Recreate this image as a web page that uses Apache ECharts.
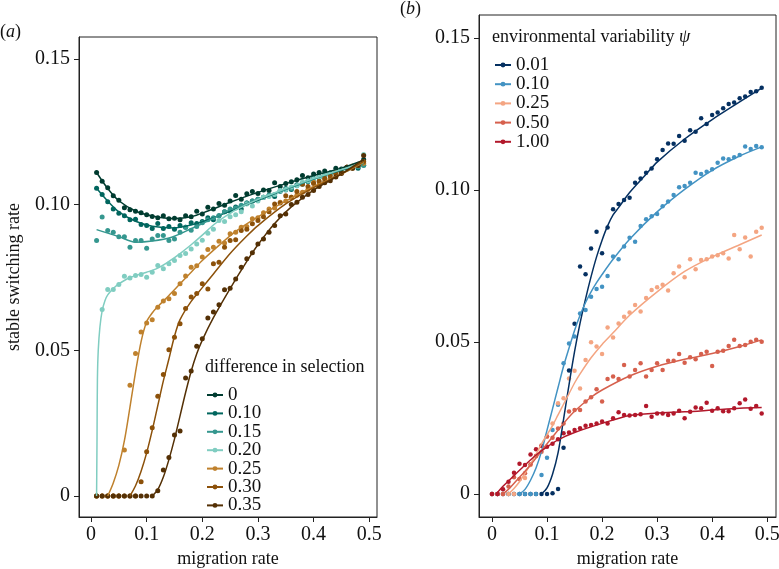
<!DOCTYPE html>
<html>
<head>
<meta charset="utf-8">
<script src="https://cdn.jsdelivr.net/npm/echarts@6/dist/echarts.min.js"></script>
<style>html,body{margin:0;padding:0;background:#fff}#c{width:779px;height:569px}</style>
</head>
<body>
<div id="c"></div>
<script>
// ---------- axis ticks ----------
const xTicks = [0, 0.1, 0.2, 0.3, 0.4, 0.5];
const xTickLabels = ['0', '0.1', '0.2', '0.3', '0.4', '0.5'];
const yTicks = [0, 0.05, 0.10, 0.15];
const yTickLabels = ['0', '0.05', '0.10', '0.15'];

// ---------- panel (a): difference in selection ----------
const namesA = ['0', '0.10', '0.15', '0.20', '0.25', '0.30', '0.35'];
const migrationA = [0.01,0.02,0.03,0.04,0.05,0.06,0.07,0.08,0.09,0.10,0.11,0.12,0.13,0.14,0.15,0.16,0.17,0.18,0.19,0.20,0.21,0.22,0.23,0.24,0.25,0.26,0.27,0.28,0.29,0.30,0.31,0.32,0.33,0.34,0.35,0.36,0.37,0.38,0.39,0.40,0.41,0.42,0.43,0.44,0.45,0.46,0.47,0.48,0.49];

const dotsA0  = [0.111,0.108,0.1058,0.103,0.1015,0.0989,0.0982,0.0977,0.0972,0.0965,0.0959,0.0955,0.0962,0.0951,0.0953,0.0948,0.0962,0.0958,0.0977,0.0968,0.0991,0.0985,0.1004,0.0998,0.1012,0.1031,0.1018,0.1037,0.1045,0.1038,0.105,0.1048,0.1075,0.1062,0.1072,0.1078,0.1085,0.110,0.1092,0.1105,0.111,0.1115,0.1108,0.1125,0.1122,0.1128,0.113,0.1135,0.1155];
const dotsA10 = [0.1056,0.1035,0.101,0.0985,0.097,0.0962,0.0948,0.095,0.0932,0.0928,0.0918,0.0935,0.0918,0.0925,0.0915,0.0928,0.0922,0.0938,0.0935,0.0942,0.0955,0.0948,0.0962,0.0975,0.0978,0.0992,0.0985,0.1005,0.1012,0.1018,0.1025,0.1032,0.1028,0.1048,0.1055,0.1052,0.1068,0.1075,0.108,0.109,0.1095,0.110,0.1108,0.1112,0.1118,0.1122,0.1128,0.1125,0.1135];
const dotsA15 = [0.0877,0.0957,0.0911,0.0905,0.089,0.089,0.0854,0.0877,0.0877,0.085,0.0882,0.0894,0.0894,0.0877,0.0882,0.0905,0.0922,0.0912,0.0925,0.0938,0.0948,0.0955,0.0962,0.0975,0.0985,0.0988,0.0998,0.1005,0.1012,0.1018,0.1025,0.1032,0.1035,0.1045,0.105,0.1055,0.1065,0.107,0.1078,0.1088,0.1092,0.1098,0.1105,0.111,0.1118,0.1122,0.1128,0.113,0.1135];
const dotsA20 = [0,0.064,0.0709,0.0709,0.0726,0.0754,0.0748,0.0757,0.076,0.0751,0.0768,0.0791,0.078,0.0797,0.0808,0.0825,0.0832,0.0848,0.0865,0.0878,0.0902,0.0915,0.0945,0.0942,0.0958,0.0965,0.0975,0.1002,0.0995,0.1012,0.1025,0.1028,0.1035,0.1048,0.1052,0.106,0.1065,0.1078,0.1082,0.1088,0.1095,0.1102,0.1105,0.1112,0.1118,0.1122,0.1128,0.1135,0.1172];
const dotsA25 = [0,0,0,0,0,0.0158,0.038,0.0489,0.0563,0.0594,0.0605,0.0648,0.0669,0.0677,0.0695,0.0728,0.0755,0.0785,0.079,0.082,0.0846,0.0854,0.0874,0.0868,0.09,0.0905,0.0922,0.0925,0.0951,0.0955,0.0972,0.0985,0.0988,0.1008,0.1012,0.1025,0.1032,0.1042,0.1052,0.1077,0.1068,0.1085,0.109,0.111,0.1108,0.1128,0.1132,0.1138,0.1142];
const dotsA30 = [0,0,0,0,0,0,0,0,0.0049,0.0152,0.0234,0.0342,0.0417,0.0502,0.0545,0.0591,0.0643,0.0683,0.0695,0.0728,0.071,0.0797,0.0802,0.0854,0.0877,0.0879,0.0911,0.0915,0.0934,0.0945,0.0958,0.0975,0.1002,0.1005,0.103,0.1025,0.1045,0.107,0.1062,0.1072,0.108,0.109,0.1098,0.1105,0.1112,0.1128,0.1125,0.1135,0.1148];
const dotsA35 = [0,0,0,0,0,0,0,0,0,0,0,0.0018,0.0089,0.0132,0.0209,0.0223,0.0405,0.0429,0.0514,0.054,0.0611,0.0631,0.0656,0.0708,0.0713,0.0745,0.0785,0.0814,0.0835,0.0865,0.0882,0.0905,0.0928,0.0962,0.0968,0.1,0.1008,0.1025,0.1035,0.1048,0.1062,0.1075,0.1082,0.1095,0.1107,0.1128,0.1125,0.1134,0.1168];

const fitA0  = [[0.01,0.111],[0.03,0.1055],[0.05,0.1013],[0.08,0.0978],[0.11,0.0961],[0.15,0.0952],[0.18,0.0958],[0.21,0.0978],[0.25,0.1008],[0.3,0.1042],[0.35,0.1072],[0.4,0.110],[0.45,0.1125],[0.49,0.1152]];
const fitA10 = [[0.01,0.1056],[0.03,0.1012],[0.05,0.0975],[0.08,0.0943],[0.11,0.0926],[0.15,0.092],[0.19,0.0935],[0.23,0.0962],[0.27,0.0992],[0.3,0.1015],[0.35,0.1052],[0.4,0.1088],[0.45,0.1118],[0.49,0.1142]];
const fitA15 = [[0.01,0.0914],[0.03,0.0902],[0.05,0.089],[0.08,0.0871],[0.11,0.0875],[0.145,0.0888],[0.18,0.0917],[0.22,0.0953],[0.25,0.0982],[0.3,0.1018],[0.35,0.1052],[0.4,0.1088],[0.45,0.112],[0.49,0.1142]];
const fitA20 = [[0.01,0],[0.0108,0.02],[0.0115,0.04],[0.013,0.05],[0.016,0.058],[0.02,0.0635],[0.025,0.067],[0.03,0.069],[0.04,0.0712],[0.05,0.0728],[0.07,0.075],[0.1,0.0768],[0.12,0.0782],[0.14,0.0805],[0.16,0.0832],[0.18,0.0862],[0.2,0.0895],[0.22,0.093],[0.24,0.0958],[0.26,0.0982],[0.3,0.1018],[0.35,0.1055],[0.4,0.109],[0.45,0.112],[0.49,0.1145]];
const fitA25 = [[0.03,0],[0.04,0.0045],[0.05,0.0105],[0.06,0.019],[0.07,0.0305],[0.08,0.0425],[0.09,0.053],[0.1,0.0598],[0.11,0.0628],[0.12,0.065],[0.14,0.0688],[0.16,0.0728],[0.18,0.0768],[0.2,0.0808],[0.23,0.086],[0.26,0.0908],[0.3,0.0958],[0.35,0.1012],[0.4,0.1062],[0.45,0.1105],[0.49,0.1145]];
const fitA30 = [[0.07,0],[0.08,0.0035],[0.09,0.0085],[0.1,0.0148],[0.11,0.0225],[0.12,0.031],[0.13,0.0395],[0.14,0.047],[0.15,0.0548],[0.16,0.0605],[0.18,0.0668],[0.2,0.0715],[0.22,0.0762],[0.25,0.0832],[0.28,0.0892],[0.3,0.0928],[0.35,0.1002],[0.4,0.1058],[0.45,0.1105],[0.49,0.1148]];
const fitA35 = [[0.11,0],[0.12,0.0022],[0.13,0.0065],[0.14,0.0125],[0.15,0.0195],[0.16,0.0275],[0.17,0.0355],[0.18,0.0428],[0.19,0.0488],[0.2,0.0535],[0.22,0.0612],[0.25,0.0712],[0.28,0.0805],[0.3,0.0862],[0.33,0.0935],[0.36,0.0992],[0.4,0.105],[0.45,0.1105],[0.49,0.1155]];

const colorsA = ['#003c30', '#01665e', '#35978f', '#80cdc1', '#bf812d', '#8c510a', '#543005'];
const dotsA = [dotsA0, dotsA10, dotsA15, dotsA20, dotsA25, dotsA30, dotsA35];
const fitsA = [fitA0, fitA10, fitA15, fitA20, fitA25, fitA30, fitA35];

// ---------- panel (b): environmental variability ----------
const namesB = ['0.01', '0.10', '0.25', '0.50', '1.00'];
const migrationB = [0,0.01,0.02,0.03,0.04,0.05,0.06,0.07,0.08,0.09,0.10,0.11,0.12,0.13,0.14,0.15,0.16,0.17,0.18,0.19,0.20,0.21,0.22,0.23,0.24,0.25,0.26,0.27,0.28,0.29,0.30,0.31,0.32,0.33,0.34,0.35,0.36,0.37,0.38,0.39,0.40,0.41,0.42,0.43,0.44,0.45,0.46,0.47,0.48,0.49];

const dotsB01  = [0,0,0,0,0,0,0,0,0,0,0,0.0002,0.0016,0.0152,0.0406,0.056,0.0748,0.0723,0.0808,0.0863,0.0792,0.0877,0.0937,0.0954,0.0967,0.0975,0.1024,0.1038,0.1057,0.1071,0.1101,0.1132,0.1153,0.1152,0.1178,0.1162,0.1197,0.1192,0.1236,0.1217,0.1247,0.1255,0.1269,0.1283,0.1288,0.1302,0.1308,0.1323,0.1325,0.1337];
const dotsB10  = [0,0,0,0,0,0,0,0,0,0.0062,0.0119,0.021,0.0293,0.043,0.0495,0.0518,0.0594,0.0605,0.0649,0.0674,0.0682,0.0717,0.0781,0.0772,0.0814,0.0843,0.083,0.0882,0.0904,0.0914,0.0921,0.0947,0.0962,0.0984,0.1009,0.1013,0.1024,0.1057,0.1053,0.106,0.1068,0.109,0.1104,0.1101,0.1108,0.1115,0.1143,0.1135,0.1145,0.1141];
const dotsB25  = [0,0,0,0,0,0.0048,0.0052,0.0095,0.0125,0.016,0.0189,0.0232,0.0298,0.0315,0.038,0.0405,0.0347,0.0441,0.0499,0.0485,0.046,0.0548,0.0515,0.0561,0.0583,0.0597,0.0622,0.060,0.0645,0.0671,0.068,0.0688,0.0669,0.0726,0.0748,0.0713,0.0772,0.0739,0.077,0.0772,0.0781,0.0785,0.0792,0.0775,0.0852,0.0805,0.0844,0.0781,0.0863,0.0876];
const dotsB50  = [0,0,0,0.0024,0.0055,0.0049,0.0068,0.0098,0.0125,0.0139,0.0189,0.0185,0.0215,0.0232,0.0271,0.0276,0.0276,0.0304,0.0318,0.0344,0.0304,0.0378,0.0386,0.0378,0.0424,0.0386,0.0408,0.043,0.0386,0.0408,0.043,0.0408,0.0438,0.0438,0.046,0.0432,0.045,0.0443,0.046,0.0468,0.0421,0.0468,0.0471,0.0487,0.0507,0.0487,0.049,0.0501,0.0507,0.0501];
const dotsB100 = [0,0,0.0015,0.004,0.007,0.0099,0.0095,0.013,0.0147,0.0158,0.0155,0.0165,0.018,0.02,0.0202,0.021,0.0216,0.0224,0.0227,0.0232,0.0238,0.0232,0.0249,0.0269,0.026,0.0258,0.026,0.0262,0.0289,0.0254,0.0265,0.0265,0.026,0.0265,0.0274,0.0249,0.027,0.0284,0.0282,0.030,0.0274,0.0282,0.0272,0.0272,0.0282,0.0298,0.0311,0.028,0.0289,0.0265];

const fitB01  = [[0.09,0],[0.10,0.002],[0.11,0.0065],[0.12,0.0135],[0.13,0.0245],[0.14,0.036],[0.15,0.0468],[0.16,0.0562],[0.17,0.0642],[0.18,0.0715],[0.19,0.078],[0.2,0.0835],[0.21,0.0882],[0.22,0.0918],[0.23,0.0942],[0.25,0.0992],[0.28,0.1052],[0.3,0.1092],[0.35,0.1168],[0.4,0.1232],[0.45,0.129],[0.49,0.1335]];
const fitB10  = [[0.05,0],[0.06,0.0015],[0.07,0.0045],[0.08,0.0085],[0.09,0.014],[0.10,0.021],[0.11,0.028],[0.12,0.035],[0.13,0.042],[0.14,0.048],[0.15,0.0538],[0.16,0.0588],[0.17,0.063],[0.18,0.0665],[0.19,0.0695],[0.2,0.0722],[0.22,0.0772],[0.25,0.0838],[0.3,0.0928],[0.35,0.1002],[0.4,0.1065],[0.45,0.1112],[0.49,0.1142]];
const fitB25  = [[0.03,0],[0.04,0.0018],[0.05,0.004],[0.06,0.0068],[0.07,0.0098],[0.08,0.013],[0.09,0.0165],[0.1,0.0195],[0.11,0.0225],[0.12,0.026],[0.13,0.0295],[0.14,0.033],[0.15,0.0365],[0.16,0.0395],[0.18,0.0448],[0.2,0.0492],[0.22,0.053],[0.25,0.0588],[0.3,0.0665],[0.35,0.0732],[0.4,0.078],[0.45,0.082],[0.49,0.0852]];
const fitB50  = [[0.02,0],[0.03,0.0015],[0.05,0.0055],[0.07,0.0095],[0.1,0.0165],[0.13,0.0232],[0.15,0.0272],[0.18,0.0318],[0.2,0.0342],[0.25,0.0388],[0.3,0.042],[0.35,0.0443],[0.4,0.0462],[0.45,0.0485],[0.49,0.0507]];
const fitB100 = [[0.01,0.0005],[0.02,0.0025],[0.04,0.006],[0.06,0.0095],[0.08,0.0128],[0.1,0.0155],[0.12,0.0178],[0.15,0.0202],[0.2,0.0232],[0.25,0.0258],[0.3,0.0266],[0.35,0.027],[0.4,0.0276],[0.45,0.0282],[0.49,0.0284]];

const colorsB = ['#053061', '#4393c3', '#f4a582', '#d6604d', '#b2182b'];
const dotsB = [dotsB01, dotsB10, dotsB25, dotsB50, dotsB100];
const fitsB = [fitB01, fitB10, fitB25, fitB50, fitB100];

// ---------- build ----------
const FONT = "'Liberation Serif', 'DejaVu Serif', serif";
const TXT = '#111';

function mkSeries(names, xs, dots, fits, colors, gi, prefix, dotSize) {
  const out = [];
  names.forEach((n, i) => {
    out.push({
      type: 'scatter', name: prefix + 'pts' + n, xAxisIndex: gi, yAxisIndex: gi,
      data: xs.map((x, k) => [x, dots[i][k]]),
      symbol: 'circle', symbolSize: dotSize,
      itemStyle: { color: colors[i], opacity: 1 }, silent: true
    });
    out.push({
      type: 'line', name: prefix + n, xAxisIndex: gi, yAxisIndex: gi,
      data: fits[i], symbol: 'none', smooth: 0.3,
      lineStyle: { color: colors[i], width: 1.5 }, itemStyle: { color: colors[i] }, silent: true
    });
  });
  return out;
}

function xAxisCfg(gi, min, max) {
  return {
    gridIndex: gi, type: 'value', min: min, max: max,
    axisLine: { show: true, onZero: false, lineStyle: { color: '#222', width: 1 } },
    axisTick: { show: true, length: 5, customValues: xTicks, lineStyle: { color: '#222' } },
    axisLabel: { customValues: xTicks, margin: 8, fontSize: 20, fontFamily: FONT, color: TXT,
      formatter: v => xTickLabels[xTicks.indexOf(v)] },
    splitLine: { show: false },
    name: 'migration rate', nameLocation: 'middle', nameGap: 27,
    nameTextStyle: { fontSize: 18, fontFamily: FONT, color: TXT }
  };
}
function yAxisCfg(gi, min, max, withName) {
  const c = {
    gridIndex: gi, type: 'value', min: min, max: max,
    axisLine: { show: true, onZero: false, lineStyle: { color: '#222', width: 1 } },
    axisTick: { show: true, length: 5, customValues: yTicks, lineStyle: { color: '#222' } },
    axisLabel: { customValues: yTicks, margin: 9, fontSize: 20, fontFamily: FONT, color: TXT,
      formatter: v => yTickLabels[yTicks.indexOf(v)] },
    splitLine: { show: false }
  };
  if (withName) {
    c.name = 'stable switching rate'; c.nameLocation = 'middle'; c.nameGap = 56;
    c.nameTextStyle = { fontSize: 18, fontFamily: FONT, color: TXT };
  }
  return c;
}

const titleStyle = { fontSize: 18, fontFamily: FONT, color: TXT, fontWeight: 'normal',
  rich: { i: { fontStyle: 'italic', fontSize: 18, fontFamily: FONT, color: TXT } } };

const option = {
  animation: false,
  backgroundColor: '#fff',
  title: [
    { text: '({i|a})', left: 0, top: 23, padding: 0, textStyle: titleStyle },
    { text: '({i|b})', left: 400, top: 0, padding: 0, textStyle: titleStyle },
    { text: 'difference in selection', left: 205, top: 358, padding: 0, textStyle: titleStyle },
    { text: 'environmental variability {i|ψ}', left: 492, top: 28, padding: 0, textStyle: titleStyle }
  ],
  legend: [
    { data: namesA.map(n => 'a:' + n), orient: 'vertical', left: 206, top: 385.5, padding: 0,
      itemWidth: 16, itemHeight: 6, itemGap: -0.6, selectedMode: false,
      formatter: n => n.slice(2),
      textStyle: { fontSize: 19, lineHeight: 17, fontFamily: FONT, color: TXT } },
    { data: namesB.map(n => 'b:' + n), orient: 'vertical', left: 494, top: 55.5, padding: 0,
      itemWidth: 16, itemHeight: 6, itemGap: 0.2, selectedMode: false,
      formatter: n => n.slice(2),
      textStyle: { fontSize: 19, lineHeight: 17, fontFamily: FONT, color: TXT } }
  ],
  grid: [
    { left: 79, top: 37, width: 298, height: 480, show: true, borderColor: '#222', borderWidth: 1,
      backgroundColor: 'transparent', outerBoundsMode: 'none', containLabel: false },
    { left: 479, top: 15, width: 297, height: 502, show: true, borderColor: '#222', borderWidth: 1,
      backgroundColor: 'transparent', outerBoundsMode: 'none', containLabel: false }
  ],
  xAxis: [ xAxisCfg(0, -0.0216, 0.514), xAxisCfg(1, -0.0236, 0.516) ],
  yAxis: [ yAxisCfg(0, -0.0072, 0.1575, true), yAxisCfg(1, -0.0076, 0.1576, false) ],
  series: [].concat(
    mkSeries(namesA, migrationA, dotsA, fitsA, colorsA, 0, 'a:', 5),
    mkSeries(namesB, migrationB, dotsB, fitsB, colorsB, 1, 'b:', 4.5)
  )
};

const chart = echarts.init(document.getElementById('c'), null, { renderer: 'canvas' });
chart.setOption(option);
</script>
</body>
</html>
